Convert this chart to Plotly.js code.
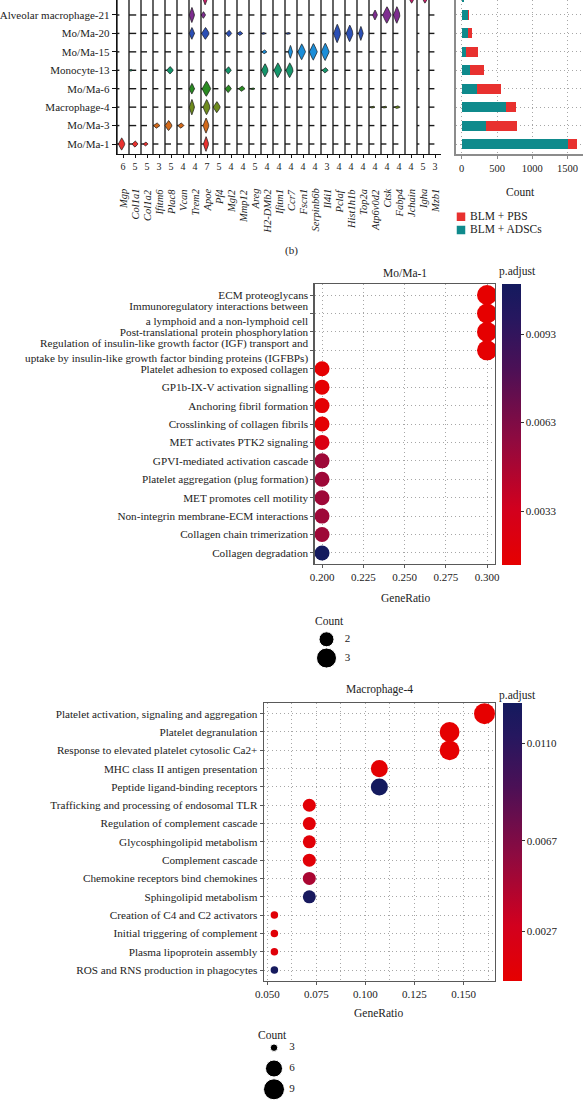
<!DOCTYPE html>
<html><head><meta charset="utf-8">
<script src="https://cdn.plot.ly/plotly-3.0.1.min.js"></script>
<style>html,body{margin:0;padding:0;background:#fff;}#chart{width:583px;height:1111px;}</style>
</head><body><div id="chart"></div>
<script>
// ---------- data: stacked violin panel ----------
const genes = ['Mgp','Col1a1','Col1a2','Ifitm6','Plac8','Vcan','Trem2','Apoe','Pf4','Mgl2','Mmp12','Areg','H2-DMb2','Ifitm1','Ccr7','Fscn1','Serpinb6b','Il4i1','Pclaf','Hist1h1b','Top2a','Atp6v0d2','Ctsk','Fabp4','Jchain','Igha','Mzb1'];
const geneMax = [6,5,5,3,5,4,4,7,5,4,4,5,4,4,4,4,4,3,4,4,4,4,4,4,4,5,3];
const clusters = ['Mo/Ma-1','Mo/Ma-3','Macrophage-4','Mo/Ma-6','Monocyte-13','Mo/Ma-15','Mo/Ma-20','Alveolar macrophage-21','Plasma cell'];
const clusterColors = ['#E8312F','#D2691A','#6E8B1E','#2A8A22','#14956A','#1C8ED8','#2B4FB5','#7E2D90','#C81E6A'];
// typical zero-expression stub length per gene (fraction of panel)
const dashLen = [0.2,0.6,0.5,0.45,0.5,0.45,0.45,0.3,0.45,0.45,0.45,0.45,0.45,0.45,0.45,0.45,0.45,0.45,0.45,0.45,0.45,0.45,0.45,0.45,0,0.2,0.45];
// violins per cluster: [gene index, peak position, half length, half height]
const vioMoMa1  = [[0,0.39,0.28,0.33],[1,0.5,0.25,0.17],[2,0.39,0.2,0.11],[7,0.42,0.22,0.4]];
const vioMoMa3  = [[3,0.31,0.27,0.15],[4,0.3,0.3,0.27],[5,0.33,0.25,0.15],[7,0.42,0.25,0.41]];
const vioMac4   = [[6,0.24,0.22,0.42],[7,0.47,0.3,0.41],[8,0.32,0.3,0.3],[21,0.3,0.2,0.06],[22,0.3,0.2,0.06],[23,0.35,0.25,0.08]];
const vioMoMa6  = [[6,0.24,0.22,0.29],[7,0.45,0.36,0.41],[9,0.27,0.26,0.21],[10,0.4,0.27,0.15],[11,0.3,0.2,0.05]];
const vioMono13 = [[1,0.15,0.12,0.06],[4,0.42,0.28,0.2],[9,0.27,0.25,0.2],[12,0.33,0.28,0.36],[13,0.4,0.32,0.4],[14,0.39,0.31,0.4],[17,0.35,0.25,0.15]];
const vioMoMa15 = [[12,0.28,0.2,0.11],[14,0.45,0.18,0.35],[15,0.39,0.32,0.43],[16,0.36,0.33,0.45],[17,0.35,0.33,0.47]];
const vioMoMa20 = [[6,0.24,0.22,0.32],[7,0.37,0.32,0.32],[9,0.32,0.24,0.18],[10,0.25,0.22,0.12],[12,0.2,0.15,0.06],[14,0.25,0.2,0.06],[18,0.35,0.3,0.5],[19,0.39,0.3,0.45],[20,0.32,0.2,0.38]];
const vioAM21   = [[6,0.24,0.22,0.41],[7,0.2,0.18,0.18],[21,0.5,0.2,0.27],[22,0.49,0.35,0.45],[23,0.32,0.28,0.45]];
const vioPlasma = [[7,0.35,0.25,0.45],[24,0.56,0.3,0.36],[25,0.67,0.3,0.36]];
const vioRows = [vioMoMa1,vioMoMa3,vioMac4,vioMoMa6,vioMono13,vioMoMa15,vioMoMa20,vioAM21,vioPlasma];

// ---------- data: cell counts ----------
const groupNames = ['BLM + PBS','BLM + ADSCs'];
const groupColors = ['#E8312F','#0F8A8C'];
const countADSC = [1500,340,625,210,120,60,95,95,38];
const countPBS  = [130,450,145,350,195,165,47,3,0];
const countTicks = [0,500,1000,1500];

// ---------- data: enrichment Mo/Ma-1 ----------
const mo1Terms = ['ECM proteoglycans','Immunoregulatory interactions between<br>a lymphoid and a non-lymphoid cell','Post-translational protein phosphorylation','Regulation of insulin-like growth factor (IGF) transport and<br>uptake by insulin-like growth factor binding proteins (IGFBPs)','Platelet adhesion to exposed collagen','GP1b-IX-V activation signalling','Anchoring fibril formation','Crosslinking of collagen fibrils','MET activates PTK2 signaling','GPVI-mediated activation cascade','Platelet aggregation (plug formation)','MET promotes cell motility','Non-integrin membrane-ECM interactions','Collagen chain trimerization','Collagen degradation'];
const mo1Ratio = [0.3,0.3,0.3,0.3,0.2,0.2,0.2,0.2,0.2,0.2,0.2,0.2,0.2,0.2,0.2];
const mo1Count = [3,3,3,3,2,2,2,2,2,2,2,2,2,2,2];
const mo1Padj  = [0.00147,0.0015,0.00155,0.0016,0.0016,0.0016,0.0017,0.0017,0.0026,0.0052,0.0052,0.0052,0.0052,0.0052,0.0110];
const mo1PadjTicks = [0.0033,0.0063,0.0093];
const mo1RatioTicks = [0.2,0.225,0.25,0.275,0.3];
const mo1LegendCounts = [2,3];

// ---------- data: enrichment Macrophage-4 ----------
const mac4Terms = ['Platelet activation, signaling and aggregation','Platelet degranulation','Response to elevated platelet cytosolic Ca2+','MHC class II antigen presentation','Peptide ligand-binding receptors','Trafficking and processing of endosomal TLR','Regulation of complement cascade','Glycosphingolipid metabolism','Complement cascade','Chemokine receptors bind chemokines','Sphingolipid metabolism','Creation of C4 and C2 activators','Initial triggering of complement','Plasma lipoprotein assembly','ROS and RNS production in phagocytes'];
const mac4Ratio = [0.1607,0.1429,0.1429,0.1071,0.1071,0.0714,0.0714,0.0714,0.0714,0.0714,0.0714,0.0536,0.0536,0.0536,0.0536];
const mac4Count = [9,8,8,6,6,4,4,4,4,4,4,3,3,3,3];
const mac4Padj  = [0.00052,0.0006,0.0006,0.0008,0.0128,0.001,0.001,0.0011,0.0011,0.0048,0.0125,0.0012,0.0012,0.0013,0.0126];
const mac4PadjTicks = [0.0027,0.0067,0.0110];
const mac4RatioTicks = [0.05,0.075,0.1,0.125,0.15];
const mac4LegendCounts = [3,6,9];

// ---------- styling helpers ----------
const W = 583, H = 1111;
const px = v => v / W;
const py = v => 1 - v / H;
const FONT = 'Liberation Serif, Times New Roman, DejaVu Serif, serif';
const TXT = '#222';
const GRID = '#a6a6a6';
const GDASH = '1px,3px';
const padjScale = [[0,'#E60000'],[0.2,'#D2001E'],[0.45,'#8E0A40'],[0.7,'#4B1056'],[0.88,'#26175F'],[1,'#141A5E']];
const size1 = c => 15 + 5 * Math.sqrt((c - 2) / (3 - 2));
const size2 = c => 7.5 + 13.5 * Math.sqrt((c - 3) / (9 - 3));
const prof = t => Math.pow(1 - Math.pow(Math.abs(t), 1.4), 1.1);

const traces = [];

// panel spines
(function(){
  const xs = [], ys = [];
  genes.forEach((g, i) => { xs.push(i, i, null); ys.push(-1, 9, null); });
  traces.push({type:'scatter', mode:'lines', x:xs, y:ys, line:{color:'#111', width:1.3}, xaxis:'x', yaxis:'y', hoverinfo:'skip', showlegend:false});
})();
// zero-expression stubs
(function(){
  const xs = [], ys = [];
  clusters.forEach((c, r) => genes.forEach((g, i) => {
    if (dashLen[i] > 0) { xs.push(i, i + dashLen[i], null); ys.push(r, r, null); }
  }));
  traces.push({type:'scatter', mode:'lines', x:xs, y:ys, line:{color:'#1a1a1a', width:1.4}, xaxis:'x', yaxis:'y', hoverinfo:'skip', showlegend:false});
})();
// violins
vioRows.forEach((list, r) => {
  const xs = [], ys = [];
  const N = 18;
  list.forEach(v => {
    const [g, p, w, hh] = v;
    for (let i = 0; i <= N; i++) { const t = -1 + 2 * i / N; xs.push(g + p + w * t); ys.push(r + hh * prof(t)); }
    for (let i = N; i >= 0; i--) { const t = -1 + 2 * i / N; xs.push(g + p + w * t); ys.push(r - hh * prof(t)); }
    xs.push(null); ys.push(null);
  });
  traces.push({type:'scatter', mode:'lines', x:xs, y:ys, fill:'toself', fillcolor:clusterColors[r], line:{color:'#1a1a1a', width:0.7}, xaxis:'x', yaxis:'y', hoverinfo:'skip', showlegend:false});
});

// bars
const rowIdx = clusters.map((c, i) => i);
traces.push({type:'bar', orientation:'h', y:rowIdx, x:countADSC, name:groupNames[1], marker:{color:groupColors[1]}, width:0.54, xaxis:'x2', yaxis:'y2', showlegend:false});
traces.push({type:'bar', orientation:'h', y:rowIdx, x:countPBS, name:groupNames[0], marker:{color:groupColors[0]}, width:0.54, xaxis:'x2', yaxis:'y2', showlegend:false});
// bar legend
traces.push({type:'scatter', mode:'markers', x:groupNames.map(() => 0), y:groupNames.map((n, i) => i), marker:{symbol:'square', size:8.5, color:groupColors, opacity:1}, xaxis:'x7', yaxis:'y7', hoverinfo:'skip', showlegend:false});
traces.push({type:'scatter', mode:'text', x:groupNames.map(() => 1), y:groupNames.map((n, i) => i), text:groupNames, textposition:'middle right', textfont:{family:FONT, size:11.5, color:TXT}, xaxis:'x7', yaxis:'y7', hoverinfo:'skip', showlegend:false, cliponaxis:false});

// dot plot Mo/Ma-1
function cbar(ticks, xPx, topPx, botPx, thick){
  return {x:px(xPx), xanchor:'left', xpad:0, y:py((topPx + botPx) / 2), yanchor:'middle', ypad:0,
    lenmode:'pixels', len:botPx - topPx, thickness:thick, outlinewidth:0,
    tickvals:ticks, tickformat:'.4f', ticks:'outside', ticklen:3, tickcolor:'#333',
    tickfont:{family:FONT, size:11, color:TXT}, title:{text:''}};
}
traces.push({type:'scatter', mode:'markers', x:mo1Ratio, y:mo1Terms.map((t, i) => i),
  marker:{size:mo1Count.map(size1), color:mo1Padj, colorscale:padjScale, cmin:0.00147, cmax:0.0110, line:{width:0}, opacity:1,
    showscale:true, colorbar:cbar(mo1PadjTicks, 502, 284, 565, 18.5)},
  xaxis:'x3', yaxis:'y3', hoverinfo:'skip', showlegend:false});
// size legend Mo/Ma-1
traces.push({type:'scatter', mode:'markers', x:mo1LegendCounts.map(() => 0), y:mo1LegendCounts.map((c, i) => i), marker:{size:mo1LegendCounts.map(size1), color:'#000', opacity:1}, xaxis:'x5', yaxis:'y5', hoverinfo:'skip', showlegend:false, cliponaxis:false});
traces.push({type:'scatter', mode:'text', x:mo1LegendCounts.map(() => 1), y:mo1LegendCounts.map((c, i) => i), text:mo1LegendCounts.map(String), textfont:{family:FONT, size:11, color:TXT}, xaxis:'x5', yaxis:'y5', hoverinfo:'skip', showlegend:false, cliponaxis:false});

// dot plot Macrophage-4
traces.push({type:'scatter', mode:'markers', x:mac4Ratio, y:mac4Terms.map((t, i) => i),
  marker:{size:mac4Count.map(size2), color:mac4Padj, colorscale:padjScale, cmin:0.00052, cmax:0.0128, line:{width:0}, opacity:1,
    showscale:true, colorbar:cbar(mac4PadjTicks, 503, 702.7, 981, 18.6)},
  xaxis:'x4', yaxis:'y4', hoverinfo:'skip', showlegend:false});
traces.push({type:'scatter', mode:'markers', x:mac4LegendCounts.map(() => 0), y:mac4LegendCounts.map((c, i) => i), marker:{size:mac4LegendCounts.map(size2), color:'#000', opacity:1}, xaxis:'x6', yaxis:'y6', hoverinfo:'skip', showlegend:false, cliponaxis:false});
traces.push({type:'scatter', mode:'text', x:mac4LegendCounts.map(() => 1), y:mac4LegendCounts.map((c, i) => i), text:mac4LegendCounts.map(String), textfont:{family:FONT, size:11, color:TXT}, xaxis:'x6', yaxis:'y6', hoverinfo:'skip', showlegend:false, cliponaxis:false});

// ---------- layout ----------
const tf = (s) => ({family:FONT, size:s, color:TXT});
const hidden = (dom, rng) => ({domain:dom, range:rng, visible:false, fixedrange:true});
const dotX = (dom, rng, ticks, minor) => ({domain:dom, range:rng, tickvals:ticks, tickformat:'.3f', ticks:'outside', ticklen:3, tickcolor:'#595959',
  showline:true, mirror:true, linecolor:'#595959', linewidth:1.2, showgrid:true, gridcolor:GRID, griddash:GDASH, gridwidth:1,
  zeroline:false, tickfont:tf(11), minor: minor ? {dtick:0.0125, tick0:0.05, showgrid:true, gridcolor:GRID, griddash:GDASH, gridwidth:1, ticks:''} : undefined});
const dotY = (dom, terms) => ({domain:dom, range:[terms.length - 0.4, -0.6], tickvals:terms.map((t, i) => i), ticktext:terms,
  ticks:'outside', ticklen:3, tickcolor:'#595959', showline:true, mirror:true, linecolor:'#595959', linewidth:1.2,
  showgrid:true, gridcolor:GRID, griddash:GDASH, gridwidth:1, zeroline:false, tickfont:tf(11.2)});

const vioYRange = [-0.5426, 7.813];
const layout = {
  width:W, height:H, margin:{l:0, r:0, t:0, b:0}, paper_bgcolor:'#fff', plot_bgcolor:'rgba(0,0,0,0)',
  showlegend:false, barmode:'stack', font:{family:FONT, color:TXT},
  xaxis:{domain:[px(117), px(441)], range:[0, genes.length], tickvals:genes.map((g, i) => i + 0.5), ticktext:geneMax.map(String),
    ticks:'outside', ticklen:3, tickcolor:'#111', showline:true, linecolor:'#111', linewidth:1.3, showgrid:false, zeroline:false, tickfont:tf(10), anchor:'y'},
  yaxis:{domain:[py(154), 1], range:vioYRange, tickvals:rowIdx, ticktext:clusters, ticks:'outside', ticklen:4, tickcolor:'#111',
    showline:true, linecolor:'#111', linewidth:1.3, showgrid:false, zeroline:false, tickfont:tf(11), anchor:'x'},
  xaxis2:{domain:[px(456), 1], range:[-81, 1718], tickvals:countTicks, ticks:'outside', ticklen:3, tickcolor:'#8c8c8c',
    showline:true, linecolor:'#8c8c8c', linewidth:2, showgrid:true, gridcolor:GRID, griddash:GDASH, gridwidth:1, zeroline:false, tickfont:tf(10.5), anchor:'y2'},
  yaxis2:{domain:[py(154), 1], range:vioYRange, tickvals:rowIdx, showticklabels:false, ticks:'',
    showline:true, linecolor:'#8c8c8c', linewidth:2, showgrid:true, gridcolor:GRID, griddash:GDASH, gridwidth:1, zeroline:false, anchor:'x2'},
  xaxis3:Object.assign(dotX([px(314.6), px(495.1)], [0.1955, 0.3049], mo1RatioTicks, false), {anchor:'y3'}),
  yaxis3:Object.assign(dotY([py(564), py(284)], mo1Terms), {anchor:'x3'}),
  xaxis4:Object.assign(dotX([px(263.8), px(495.1)], [0.0482, 0.1661], mac4RatioTicks, true), {anchor:'y4'}),
  yaxis4:Object.assign(dotY([py(981), py(702.7)], mac4Terms), {anchor:'x4'}),
  xaxis5:Object.assign(hidden([px(316), px(358)], [-0.5, 1.5]), {anchor:'y5'}),
  yaxis5:Object.assign(hidden([py(667.4), py(629.9)], [1.5, -0.5]), {anchor:'x5'}),
  xaxis6:Object.assign(hidden([px(265), px(301)], [-0.5, 1.5]), {anchor:'y6'}),
  yaxis6:Object.assign(hidden([py(1099.7), py(1037.3)], [2.5, -0.5]), {anchor:'x6'}),
  xaxis7:Object.assign(hidden([px(452), px(560)], [-1, 11]), {anchor:'y7'}),
  yaxis7:Object.assign(hidden([py(236.7), py(210)], [1.5, -0.5]), {anchor:'x7'}),
  annotations:[]
};
// gene names (rotated, italic)
genes.forEach((g, i) => layout.annotations.push({xref:'x', yref:'paper', x:i + 0.5, y:py(187), xanchor:'center', yanchor:'top',
  text:'<i>' + g + '</i>', textangle:-90, showarrow:false, font:tf(10.5)}));
const ann = (text, x, y, size, extra) => layout.annotations.push(Object.assign({xref:'paper', yref:'paper', x:px(x), y:py(y), xanchor:'center', yanchor:'middle', text:text, showarrow:false, font:tf(size)}, extra || {}));
ann('Count', 520.5, 191.7, 11.5);
ann('(b)', 291, 250, 11);
ann('Mo/Ma-1', 405, 273, 11.5);
ann('p.adjust', 517, 271.7, 11.5);
ann('GeneRatio', 405, 598, 11.5);
ann('Count', 329, 621, 11.5);
ann('Macrophage-4', 379.4, 689, 11.5);
ann('p.adjust', 517, 695, 11.5);
ann('GeneRatio', 378.7, 1013, 11.5);
ann('Count', 272.4, 1035, 11.5);
ann('(c)', 291, 1107, 11, {yanchor:'top'});

Plotly.newPlot('chart', traces, layout, {staticPlot:true, displayModeBar:false});
</script></body></html>
